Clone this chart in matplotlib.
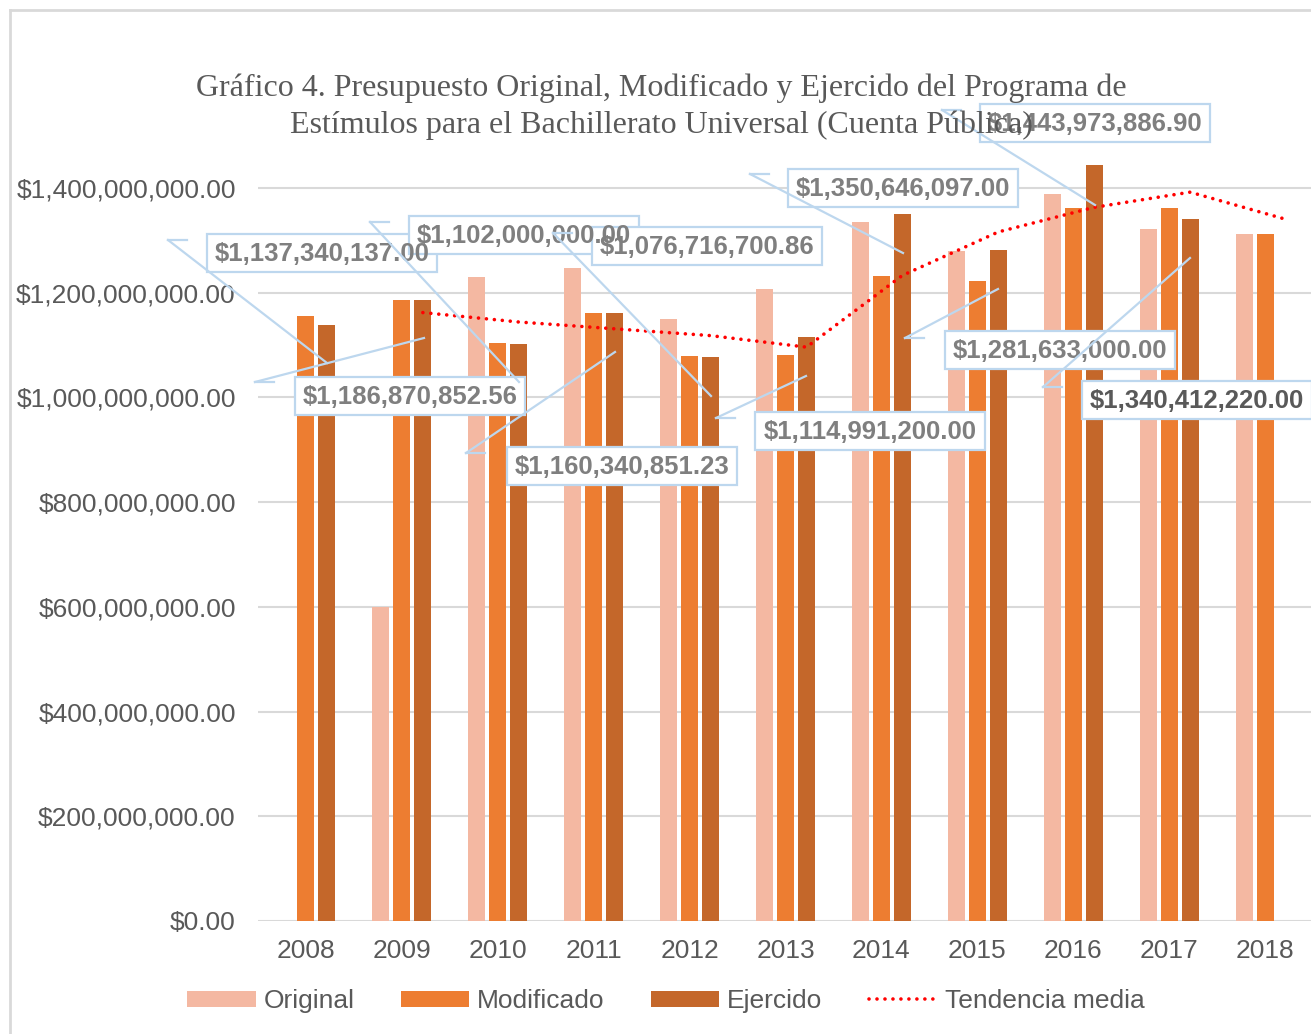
import numpy as np
import matplotlib.pyplot as plt
from matplotlib.transforms import Affine2D
from matplotlib.lines import Line2D
from matplotlib.patches import Rectangle

years = ['2008', '2009', '2010', '2011', '2012', '2013', '2014', '2015', '2016', '2017', '2018']
original = [np.nan, 600e6, 1229.5e6, 1247.8e6, 1149.8e6, 1206.5e6, 1335.1e6, 1279.7e6, 1388.0e6, 1322.4e6, 1311.6e6]
modificado = [1155.6e6, 1186.9e6, 1104.6e6, 1160.7e6, 1079.8e6, 1081.0e6, 1232.0e6, 1221.8e6, 1362.5e6, 1362.5e6, 1311.6e6]
ejercido = [1137340137.00, 1186870852.56, 1102000000.00, 1160340851.23, 1076716700.86,
            1114991200.00, 1350646097.00, 1281633000.00, 1443973886.90, 1340412220.00, np.nan]
# moving average trend (2009-2018)
tendencia = [1162e6, 1144e6, 1131e6, 1118e6, 1096e6, 1233e6, 1316e6, 1363e6, 1392e6, 1340e6]

title_lines = ['Gráfico 4. Presupuesto Original, Modificado y Ejercido del Programa de',
               'Estímulos para el Bachillerato Universal (Cuenta Pública)']

W, H = 1311, 1034
gray = '#595959'
plt.rcParams['font.family'] = ['Liberation Sans', 'DejaVu Sans']

fig = plt.figure(figsize=(W / 100, H / 100), dpi=100)
ax = fig.add_axes([258 / W, 113 / H, 1055 / W, 785.4 / H])

x = np.arange(len(years))
w = 0.178
off = 0.219
b1 = ax.bar(x - off, original, w, color='#F4B8A2', label='Original', zorder=2)
b2 = ax.bar(x, modificado, w, color='#ED7D31', label='Modificado', zorder=2)
b3 = ax.bar(x + off, ejercido, w, color='#C4672A', label='Ejercido', zorder=2, clip_on=False)
tl, = ax.plot(x[1:] + off, tendencia, color='red', lw=2.6, linestyle=(0, (0.01, 2.2)),
              dash_capstyle='round', label='Tendencia media', zorder=3)

ax.set_xlim(-0.5, 10.5)
ax.set_ylim(0, 1.5e9)
ax.set_xticks(x, years)
ax.set_yticks(np.arange(0, 1.41e9, 2e8))
ax.yaxis.set_major_formatter(lambda v, p: f'${v:,.2f}')
ax.tick_params(length=0, labelsize=19, labelcolor=gray)
ax.tick_params(axis='y', pad=16)
ax.tick_params(axis='x', pad=13)
ax.grid(axis='y', color='#D9D9D9', lw=1.5, zorder=0)
ax.set_axisbelow(True)
for s in ax.spines.values():
    s.set_visible(False)

# chart border
fig.add_artist(Line2D([10 / W, 1], [1 - 10 / H, 1 - 10 / H], color='#D9D9D9', lw=2))
fig.add_artist(Line2D([10 / W, 10 / W], [0, 1 - 10 / H], color='#D9D9D9', lw=2))

pix = Affine2D().scale(1 / W, -1 / H).translate(0, 1) + fig.transFigure

for ty, line in zip([88, 125], title_lines):
    fig.text(661, ty, line, transform=pix, ha='center', va='center', fontsize=23,
             color=gray, family=['Liberation Serif', 'DejaVu Serif'], zorder=14)

# data labels for Ejercido (pixel positions of boxes and leader lines)
label_pos = [(322, 253), (410, 396), (524, 235), (622, 466), (707, 246),
             (870, 431), (903, 188), (1060, 350), (1095, 123), (1197, 400)]
leaders = [((168, 240), (327, 363)), ((255, 382), (424, 338)), ((370, 222), (519, 382)),
           ((466, 453), (615, 352)), ((553, 233), (711, 396)), ((716, 418), (806, 376)),
           ((750, 174), (903, 253)), ((905, 338), (998, 289)), ((942, 110), (1095, 205)),
           ((1043, 387), (1190, 258))]
lc = '#BDD7EE'
bw, bh = 230, 38
for i, ((px, py), (a, b)) in enumerate(zip(label_pos, leaders)):
    txt = f'${ejercido[i]:,.2f}'
    fig.add_artist(Rectangle((px - bw / 2, py - bh / 2), bw, bh, transform=pix,
                             fc='white', ec=lc, lw=1.6, zorder=11))
    col = '#595959' if i == 9 else '#7F7F7F'
    fig.text(px, py + 1, txt, transform=pix, ha='center', va='center', fontsize=18.5,
             fontweight='bold', color=col, zorder=12)
    fig.add_artist(Line2D([a[0], a[0] + 19], [a[1], a[1]], transform=pix, color=lc, lw=1.6, zorder=13))
    fig.add_artist(Line2D([a[0], b[0]], [a[1], b[1]], transform=pix, color=lc, lw=1.6, zorder=13))

fig.legend([b1, b2, b3, tl], ['Original', 'Modificado', 'Ejercido', 'Tendencia media'],
           loc='center', bbox_to_anchor=(666 / W, 1 - 1001 / H), ncol=4, frameon=False,
           fontsize=19, labelcolor=gray, handlelength=2.6, handleheight=0.55,
           handletextpad=0.3, columnspacing=1.75)

fig.savefig('out.png', dpi=100)
